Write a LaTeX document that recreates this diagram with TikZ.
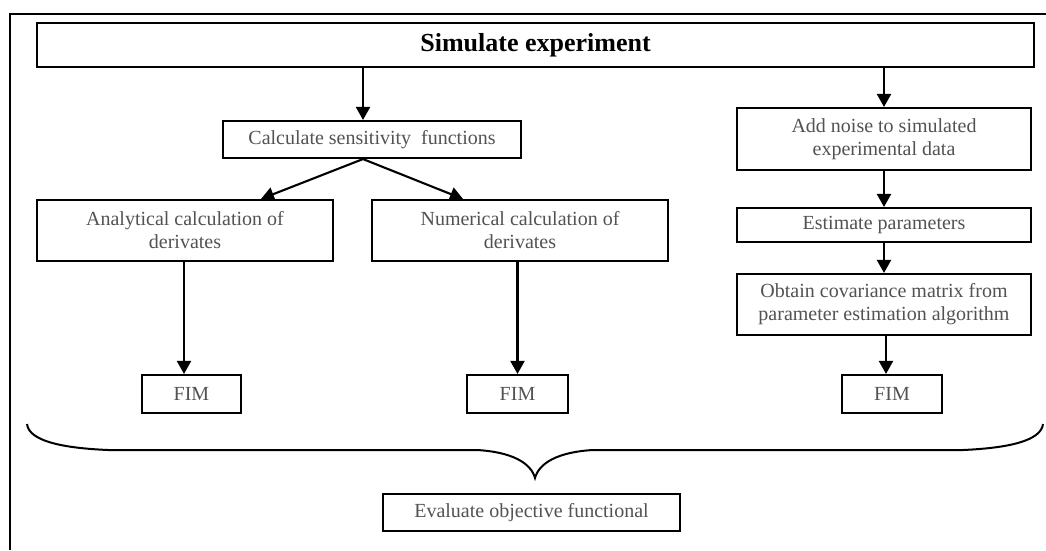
\documentclass[tikz,border=0pt]{standalone}
\usepackage{fontspec}
\setmainfont{Liberation Serif}
\usetikzlibrary{arrows.meta,calc}

\tikzset{
  box/.style={draw=black, line width=2.1pt, inner sep=0pt, align=center,
    text=black!68, font=\fontsize{20}{23}\selectfont},
  flow/.style={line width=2.1pt, -{Triangle[width=14pt,length=13pt]}},
  rim/.style={line width=2.2pt},
  brace/.style={line width=2pt}
}

\begin{document}
\begin{tikzpicture}[x=1pt,y=-1pt]
\useasboundingbox (0,0) rectangle (1046,550);

% outer frame (left and top edges)
\draw[rim] (10,550) -- (10,14) -- (1046,14);

% boxes
\node[box, minimum width=997pt, minimum height=44pt, text=black,
      font=\fontsize{26}{30}\selectfont\bfseries] (sim) at (535.5,45) {Simulate experiment};
\node[box, minimum width=298pt, minimum height=37pt] (calc) at (372,139.5) {Calculate sensitivity\ \ functions};
\node[box, minimum width=294pt, minimum height=62pt] (noise) at (884,139) {Add noise to simulated\\experimental data};
\node[box, minimum width=294pt, minimum height=34pt] (est) at (884,225) {Estimate parameters};
\node[box, minimum width=294pt, minimum height=61pt] (cov) at (884,304.5) {Obtain covariance matrix from\\parameter estimation algorithm};
\node[box, minimum width=296pt, minimum height=61pt] (ana) at (185,230.5) {Analytical calculation of\\derivates};
\node[box, minimum width=296pt, minimum height=61pt] (num) at (520,230.5) {Numerical calculation of\\derivates};
\node[box, minimum width=99pt, minimum height=38pt] (fimA) at (191.5,394) {FIM};
\node[box, minimum width=101pt, minimum height=38pt] (fimB) at (517.5,394) {FIM};
\node[box, minimum width=100pt, minimum height=38pt] (fimC) at (892,394) {FIM};
\node[box, minimum width=297pt, minimum height=37pt] (eval) at (531.5,512.5) {Evaluate objective functional};

% connectors
\draw[flow] ([xshift=-172.5pt]sim.south) -- ([xshift=-9pt]calc.north);
\draw[flow] (noise.north |- sim.south) -- (noise.north);
\draw[flow] ([xshift=-9pt]calc.south) -- ([xshift=76pt]ana.north);
\draw[flow] ([xshift=-9pt]calc.south) -- ([xshift=-57pt]num.north);
\draw[flow] (noise.south) -- (est.north);
\draw[flow] (est.south) -- (cov.north);
\draw[flow] ([xshift=2pt]cov.south) -- ([xshift=2pt]cov.south |- fimC.north);
\draw[flow] ([xshift=-1pt]ana.south) -- ([xshift=-1pt]ana.south |- fimA.north);
\draw[flow] (fimB.north |- num.south) -- (fimB.north);

% brace gathering the three FIM results
\coordinate (tip) at (535,478);
\draw[brace] (27,424) .. controls (29,441) and (62,448) .. (108,450)
  -- (477,450) .. controls (512,452) and (531,463) .. (tip)
  .. controls (539,463) and (558,452) .. (593,450)
  -- (963,450) .. controls (1008,448) and (1041,441) .. (1043,424);
\end{tikzpicture}
\end{document}
